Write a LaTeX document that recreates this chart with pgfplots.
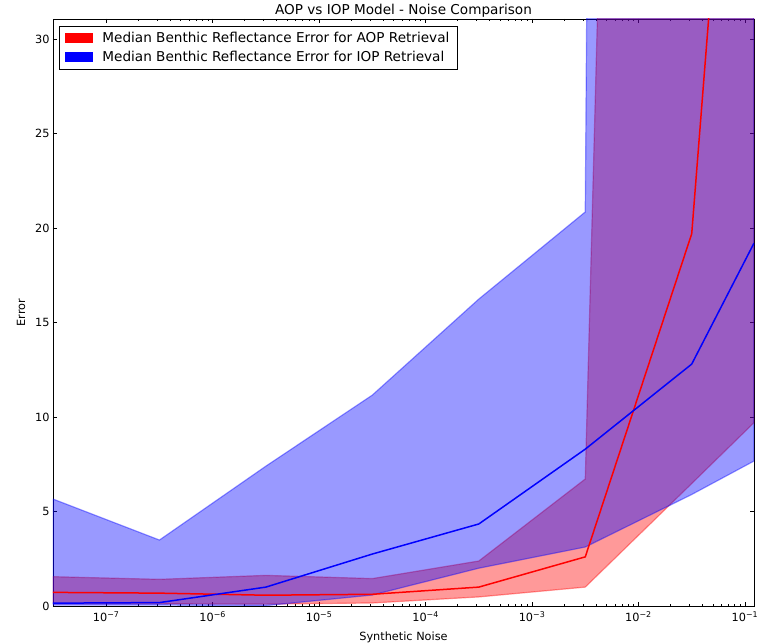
\documentclass[border=0pt]{standalone}
\usepackage{fontspec}
\setmainfont{DejaVu Sans}
\usepackage{pgfplots}
\pgfplotsset{compat=1.18}
\begin{document}
\begin{tikzpicture}
\useasboundingbox (0,0) rectangle (767pt,644pt);
\begin{axis}[
  at={(53pt,38pt)}, anchor=south west,
  scale only axis, width=701pt, height=587pt,
  xmode=log, xmin=3.1623e-8, xmax=0.1216,
  ymin=0, ymax=31.06,
  ytick={0,5,10,15,20,25,30},
  xtick={1e-7,1e-6,1e-5,1e-4,1e-3,1e-2,1e-1},
  xticklabels={10\textsuperscript{−7},10\textsuperscript{−6},10\textsuperscript{−5},10\textsuperscript{−4},10\textsuperscript{−3},10\textsuperscript{−2},10\textsuperscript{−1}},
  /pgf/number format/assume math mode=true,
  tick label style={font=\fontsize{11.3}{13}\selectfont, black},
  xticklabel style={yshift=-2pt},
  label style={font=\fontsize{11.3}{13}\selectfont},
  xlabel={Synthetic Noise}, ylabel={Error},
  title={AOP vs IOP Model - Noise Comparison},
  title style={font=\fontsize{13.6}{16}\selectfont, yshift=-8pt},
  xlabel style={yshift=-4pt},
  ylabel style={yshift=3pt},
  axis line style={black, line width=0.8pt},
  tick style={black, line width=0.6pt},
  major tick length=4.5pt, minor tick length=2.3pt,
  legend style={at={(0.0086,0.988)}, anchor=north west, draw=black, line width=0.8pt,
    font=\fontsize{13.6}{16}\selectfont, row sep=3pt, inner xsep=6pt, inner ysep=4pt},
  legend cell align=left,
  legend image code/.code={\fill[#1] (0pt,-5pt) rectangle (28pt,5pt); \path (35pt,0pt);},
]
\addlegendimage{fill=red, draw=none}
\addlegendentry{Median Benthic Reflectance Error for AOP Retrieval}
\addlegendimage{fill=blue, draw=none}
\addlegendentry{Median Benthic Reflectance Error for IOP Retrieval}

% AOP band (upper then reversed lower)
\addplot[forget plot, fill=red, fill opacity=0.4, draw=red, draw opacity=0.4, line width=1.2pt] coordinates {
(3.1623e-8,1.55) (3.1623e-7,1.41) (3.1623e-6,1.62) (3.1623e-5,1.45) (3.1623e-4,2.38) (3.1623e-3,6.72) (3.1623e-2,221) (0.1216,300)
(0.1216,9.7) (3.1623e-2,6.48) (3.1623e-3,1.0) (3.1623e-4,0.48) (3.1623e-5,0.16) (3.1623e-6,0.1) (3.1623e-7,0.12) (3.1623e-8,0.12)
} -- cycle;

% IOP band
\addplot[forget plot, fill=blue, fill opacity=0.4, draw=blue, draw opacity=0.4, line width=1.2pt] coordinates {
(3.1623e-8,5.66) (3.1623e-7,3.49) (3.1623e-6,7.4) (3.1623e-5,11.16) (3.1623e-4,16.24) (3.1623e-3,20.85) (3.1623e-2,800) (0.1216,800)
(0.1216,7.67) (3.1623e-2,5.9) (3.1623e-3,3.12) (3.1623e-4,2.0) (3.1623e-5,0.58) (3.1623e-6,0.02) (3.1623e-7,0.05) (3.1623e-8,0.05)
} -- cycle;

% AOP median
\addplot[forget plot, red, line width=1.5pt] coordinates {
(3.1623e-8,0.72) (3.1623e-7,0.68) (3.1623e-6,0.57) (3.1623e-5,0.62) (3.1623e-4,1.0) (3.1623e-3,2.6) (3.1623e-2,19.7) (0.1216,61.6)
};

% IOP median
\addplot[forget plot, blue, line width=1.5pt] coordinates {
(3.1623e-8,0.15) (3.1623e-7,0.18) (3.1623e-6,1.0) (3.1623e-5,2.75) (3.1623e-4,4.34) (3.1623e-3,8.3) (3.1623e-2,12.8) (0.1216,19.2)
};
\end{axis}
\end{tikzpicture}
\end{document}
